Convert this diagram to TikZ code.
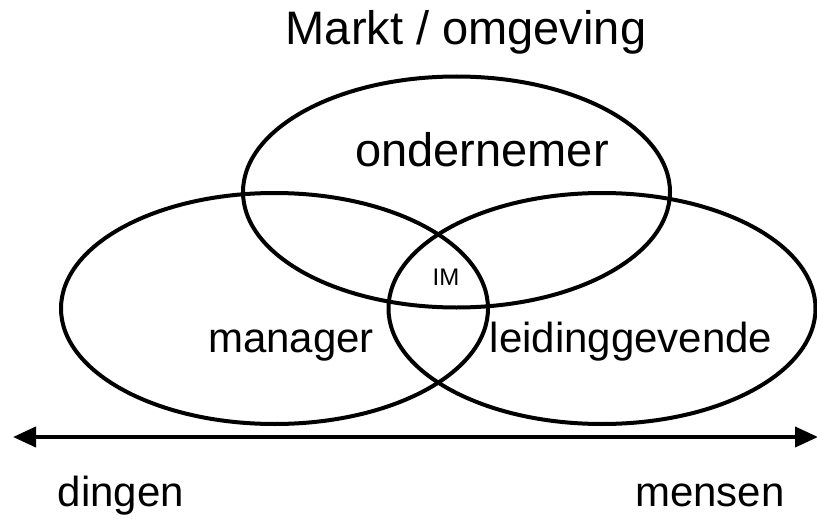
\documentclass[tikz,border=0pt]{standalone}
\usepackage{fontspec}
\setmainfont{Liberation Sans}
\usetikzlibrary{shapes.geometric,arrows.meta}
\begin{document}
\begin{tikzpicture}[x=1pt,y=-1pt,
    rol/.style={draw,ellipse,line width=4pt,inner sep=0pt,
      minimum width=427pt,minimum height=231pt},
    tekst/.style={anchor=base,inner sep=0pt,font=\fontsize{42}{48}\selectfont},
    groot/.style={font=\fontsize{47}{54}\selectfont},
    pijl/.style={{Triangle[length=23pt,width=20pt]}-{Triangle[length=23pt,width=20pt]},
      line width=4pt}]
  \useasboundingbox (0,0) rectangle (817,519);
  \draw
    (456.5,192) node[rol] (ond){}
    (274.5,308.5) node[rol] (man){}
    (602,308.5) node[rol] (leid){};
  \draw
    (466,45) node[tekst,groot] (markt){Markt / omgeving}
    (482,166) node[tekst,groot] (ondt){ondernemer}
    (291,352) node[tekst] (mant){manager}
    (631,352) node[tekst] (leidt){leidinggevende}
    (446,285) node[tekst,font=\fontsize{24}{28}\selectfont] (im){IM}
    (121,506) node[tekst] (ding){dingen}
    (710,506) node[tekst] (mens){mensen};
  \coordinate (links) at (13,437);
  \coordinate (rechts) at (818,437);
  \draw[pijl] (links) -- (rechts);
\end{tikzpicture}
\end{document}
